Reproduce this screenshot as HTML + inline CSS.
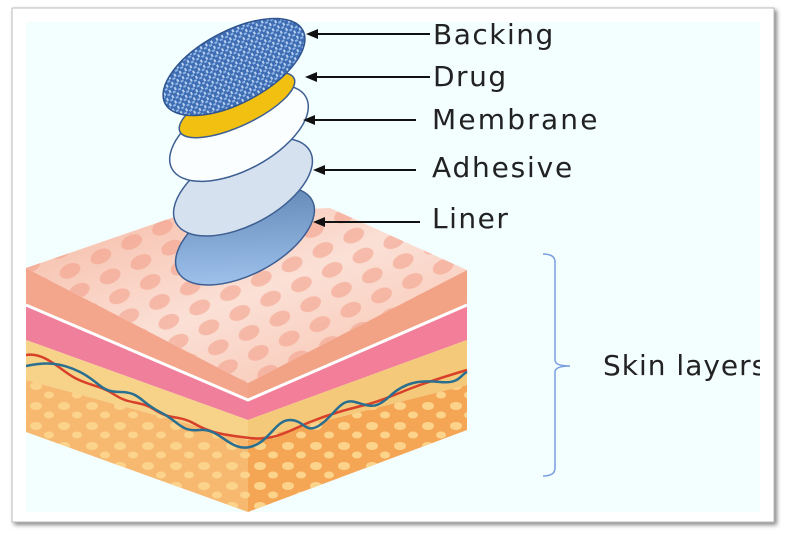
<!DOCTYPE html>
<html><head><meta charset="utf-8"><style>
html,body{margin:0;padding:0;background:#fff;width:786px;height:541px;overflow:hidden}
svg{display:block}
text{font-family:"DejaVu Sans","Liberation Sans",sans-serif;fill:#222}
</style></head><body>
<svg width="786" height="541" viewBox="0 0 786 541" xmlns="http://www.w3.org/2000/svg">
<defs>
<filter id="sh" x="-5%" y="-5%" width="110%" height="110%"><feGaussianBlur stdDeviation="2"/></filter>
<linearGradient id="lin" x1="0" y1="1" x2="1" y2="0"><stop offset="0" stop-color="#a8ccf5"/><stop offset="1" stop-color="#5a7fae"/></linearGradient>
<linearGradient id="topf" x1="0" y1="0" x2="1" y2="1"><stop offset="0" stop-color="#f6b9a3"/><stop offset="0.5" stop-color="#fbe0d6"/><stop offset="1" stop-color="#f7c0aa"/></linearGradient>
<pattern id="dots" width="34" height="22" patternUnits="userSpaceOnUse" patternTransform="rotate(-25)">
<ellipse cx="17" cy="11" rx="11" ry="7" fill="#f29d86" opacity="0.55"/></pattern>
<pattern id="tex" width="6" height="6" patternUnits="userSpaceOnUse"><rect width="6" height="6" fill="#3e6db3"/><rect x="0" y="0" width="3" height="2" fill="#8fb5e6"/><rect x="3" y="3" width="2" height="3" fill="#b7d0f0"/></pattern>
<pattern id="fat" width="28" height="20" patternUnits="userSpaceOnUse"><ellipse cx="8" cy="6" rx="6" ry="4" fill="#fbd38b"/><ellipse cx="21" cy="15" rx="5" ry="3.5" fill="#fbd38b"/></pattern>
<clipPath id="cl"><rect x="26" y="22" width="734" height="490"/></clipPath>
</defs>
<rect x="14" y="10" width="763" height="515" fill="#888" filter="url(#sh)"/>
<rect x="12" y="8" width="762" height="514" fill="#fff" stroke="#bbb"/>
<rect x="26" y="22" width="734" height="490" fill="#f3feff"/>
<g clip-path="url(#cl)">
<polygon points="26,268 248,383 248,400 26,305" fill="#f3a68c"/>
<polygon points="26,305 248,400 248,420 26,340" fill="#f07f9c"/>
<polygon points="26,340 248,420 248,440 26,380" fill="#f7d38a"/>
<polygon points="26,380 248,440 248,512 26,432" fill="#f7b870"/>
<polygon points="26,380 248,440 248,512 26,432" fill="url(#fat)"/>
<polygon points="248,383 467,270 467,305 248,400" fill="#f2a285"/>
<polygon points="248,400 467,305 467,340 248,420" fill="#f27e9a"/>
<polygon points="248,420 467,340 467,385 248,440" fill="#f5c97a"/>
<polygon points="248,440 467,385 467,430 248,512" fill="#f5a655"/>
<polygon points="248,440 467,385 467,430 248,512" fill="url(#fat)"/>
<polyline points="26,305 248,400 467,305" fill="none" stroke="#fff" stroke-width="3"/>
<path d="M26,355 C45,352 60,370 75,378 S100,385 115,395 S140,400 155,410 S180,415 195,424 S225,435 250,438 S290,430 310,422 S345,410 365,405 S400,392 420,385 S450,375 467,370" fill="none" stroke="#d8402a" stroke-width="2.5"/>
<path d="M26,366 C45,362 60,362 80,372 S100,392 120,392 S140,402 160,412 S180,432 200,430 S230,452 250,447 S275,420 290,420 S305,435 320,425 S340,398 355,402 S375,410 390,396 S420,380 440,382 S460,375 467,372" fill="none" stroke="#2a6f8f" stroke-width="2.5"/>
<polygon points="26,268 180,215 330,208 467,270 248,383" fill="url(#topf)"/>
<polygon points="26,268 180,215 330,208 467,270 248,383" fill="url(#dots)"/>
</g>
<ellipse cx="245" cy="236" rx="76" ry="38" transform="rotate(-28 245 236)" fill="url(#lin)" stroke="#3e5f92" stroke-width="1.5"/>
<ellipse cx="243" cy="187" rx="76" ry="38" transform="rotate(-28 243 187)" fill="#d6e1ef" stroke="#3e5f92" stroke-width="1.5"/>
<ellipse cx="239" cy="133" rx="76" ry="37" transform="rotate(-28 239 133)" fill="#fafeff" stroke="#3e5f92" stroke-width="1.5"/>
<ellipse cx="237" cy="105" rx="63" ry="21" transform="rotate(-25 237 105)" fill="#f2c010" stroke="#3e5f92" stroke-width="1.5"/>
<ellipse cx="234" cy="67" rx="78" ry="36" transform="rotate(-28 234 67)" fill="url(#tex)" stroke="#2f548f" stroke-width="1.5"/>
<g stroke="#111" stroke-width="2">
<line x1="316" y1="34" x2="430" y2="34"/><line x1="315" y1="77" x2="430" y2="77"/>
<line x1="313" y1="120" x2="416" y2="120"/><line x1="323" y1="170" x2="416" y2="170"/>
<line x1="323" y1="222" x2="420" y2="222"/>
</g>
<g fill="#111">
<polygon points="306,34 318,29 318,39"/><polygon points="305,77 317,72 317,82"/>
<polygon points="303,120 315,115 315,125"/><polygon points="313,170 325,165 325,175"/>
<polygon points="313,222 325,217 325,227"/>
</g>
<text x="433" y="44" font-size="28" letter-spacing="1.5">Backing</text>
<text x="433" y="86" font-size="28" letter-spacing="1.5">Drug</text>
<text x="432" y="129" font-size="28" letter-spacing="2.2">Membrane</text>
<text x="432" y="177" font-size="28" letter-spacing="1.8">Adhesive</text>
<text x="432" y="228" font-size="28" letter-spacing="1.5">Liner</text>
<path d="M543,254 Q555,254 555,262 L555,360 Q555,366 570,366 Q555,366 555,372 L555,468 Q555,476 543,476" fill="none" stroke="#7b9fe0" stroke-width="1.5"/>
<svg x="0" y="0" width="760" height="541"><text x="603" y="375" font-size="28" letter-spacing="1">Skin layers</text></svg>
</svg>
</body></html>
